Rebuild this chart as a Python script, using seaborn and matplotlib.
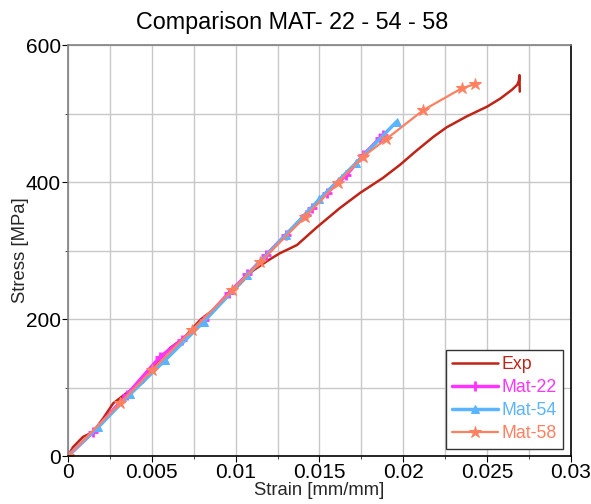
import matplotlib
matplotlib.use("Agg")
import matplotlib.pyplot as plt
import seaborn as sns
import pandas as pd
from matplotlib.ticker import MultipleLocator

sns.set_style("white")
plt.rcParams['font.family'] = ['Liberation Sans', 'DejaVu Sans']

exp_strain = [0, 0.0003, 0.0009, 0.0015, 0.0021, 0.0027, 0.0035, 0.0045, 0.0053, 0.0061,
              0.0069, 0.0079, 0.00865, 0.0101, 0.0110, 0.0119, 0.01264, 0.01366, 0.01485,
              0.01622, 0.01742, 0.01879, 0.0198, 0.0208, 0.0218, 0.0226, 0.0238, 0.0250,
              0.0258, 0.0265, 0.0268, 0.0269, 0.02693, 0.02695]
exp_stress = [0, 13, 28, 35, 55, 77, 92, 108, 137, 158,
              172, 199, 213, 247, 270, 285, 296, 308, 334,
              362, 384, 406, 425, 446, 466, 480, 496, 510,
              522, 535, 542, 548, 556, 532]

m22_strain = [0, 0.0015, 0.0035, 0.0055, 0.0068, 0.0081, 0.0096, 0.0107, 0.0118, 0.0130,
              0.0142, 0.01455, 0.01545, 0.0166, 0.0176, 0.0186, 0.0188]
m22_stress = [0, 35, 89, 145, 169, 198, 238, 265, 293, 323,
              352, 362, 384, 410, 439, 464, 468]

m54_strain = [0, 0.0018, 0.0037, 0.0058, 0.0081, 0.0107, 0.0130, 0.0150, 0.0172, 0.0196]
m54_stress = [0, 42, 90, 140, 196, 264, 323, 375, 428, 488]

m58_strain = [0, 0.0031, 0.0050, 0.0074, 0.0098, 0.01146, 0.01414, 0.0161, 0.0176,
              0.0190, 0.0212, 0.0235, 0.0243]
m58_stress = [0, 77, 125, 184, 242, 283, 349, 399, 437,
              463, 505, 537, 543]

series_names = ["Exp", "Mat-22", "Mat-54", "Mat-58"]
colors = ["#C02418", "#FF33FF", "#5AB4FF", "#FF8060"]

fig = plt.figure(figsize=(5.91, 5.04), dpi=100)
ax = fig.add_axes([0.115, 0.0952, 0.851, 0.8155])

sns.lineplot(x=exp_strain, y=exp_stress, ax=ax, sort=False, color=colors[0], lw=1.8,
             label=series_names[0], estimator=None)
sns.lineplot(x=m22_strain, y=m22_stress, ax=ax, sort=False, color=colors[1], lw=2.5,
             marker="+", markersize=7, markeredgewidth=2, markeredgecolor=colors[1],
             label=series_names[1], estimator=None)
sns.lineplot(x=m54_strain, y=m54_stress, ax=ax, sort=False, color=colors[2], lw=2.5,
             marker="^", markersize=6, markeredgecolor=colors[2],
             label=series_names[2], estimator=None)
sns.lineplot(x=m58_strain, y=m58_stress, ax=ax, sort=False, color=colors[3], lw=1.6,
             marker="*", markersize=9, markeredgecolor=colors[3],
             label=series_names[3], estimator=None)

ax.set_xlim(0, 0.03)
ax.set_ylim(0, 600)
ax.xaxis.set_major_locator(MultipleLocator(0.005))
ax.xaxis.set_minor_locator(MultipleLocator(0.0025))
ax.yaxis.set_major_locator(MultipleLocator(200))
ax.yaxis.set_minor_locator(MultipleLocator(100))
ax.xaxis.set_major_formatter(matplotlib.ticker.FuncFormatter(
    lambda v, p: "0" if abs(v) < 1e-12 else ("%g" % round(v, 4))))
ax.grid(True, which="both", color="#c8c8c8", lw=1)
ax.set_axisbelow(True)
ax.tick_params(which="major", direction="out", length=4, labelsize=15, colors="black",
               bottom=True, left=True, pad=1)
ax.tick_params(which="minor", direction="out", length=2, bottom=True, left=True)
for s in ["left", "top"]:
    ax.spines[s].set_color("#808080")
for s in ["bottom", "right"]:
    ax.spines[s].set_color("black")
for s in ax.spines.values():
    s.set_linewidth(1.2)

ax.set_xlabel("Strain [mm/mm]", fontsize=13.3)
ax.set_ylabel("Stress [MPa]", fontsize=13.3)
ax.xaxis.set_label_coords(0.5, -0.064)
ax.yaxis.set_label_coords(-0.077, 0.5)
fig.suptitle("Comparison MAT- 22 - 54 - 58", fontsize=16.8, x=0.495, y=0.978,
             va="top", color="black")

leg = ax.legend(loc="lower right", fontsize=12.8, frameon=True, fancybox=False,
                edgecolor="#333333", framealpha=1, handlelength=2.6, borderaxespad=0.3,
                labelspacing=0.35, handletextpad=0.2, borderpad=0.35,
                bbox_to_anchor=(0.995, 0.005))
leg.get_frame().set_linewidth(1.0)
for t, c in zip(leg.get_texts(), colors):
    t.set_color(c)

fig.savefig("out.png", dpi=100)
